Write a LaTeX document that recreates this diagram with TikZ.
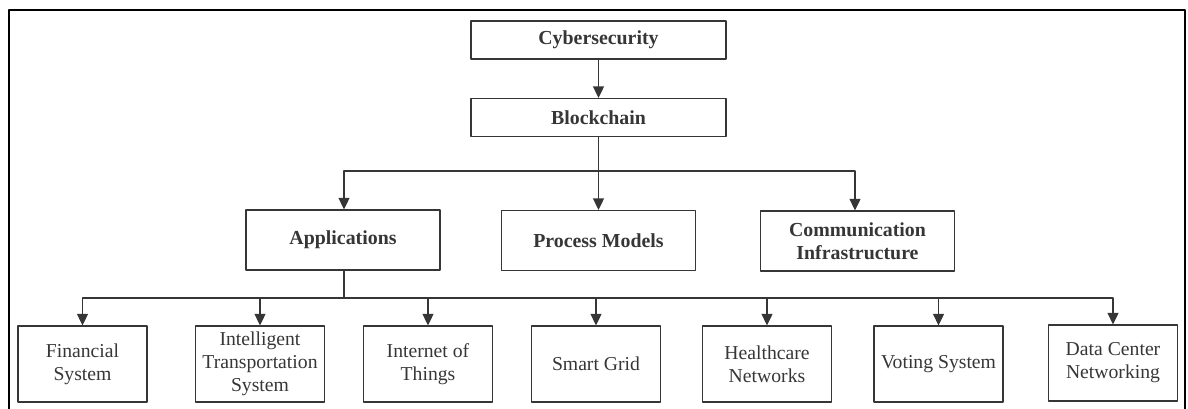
\documentclass[tikz,border=0pt]{standalone}
\usepackage{fontspec}
\setmainfont{Liberation Serif}
\usetikzlibrary{arrows.meta}
\definecolor{ink}{HTML}{363636}

\begin{document}
\begin{tikzpicture}[line cap=round,line join=round,
    topbox/.style={draw=ink,line width=0.7pt,inner sep=0pt,text=ink,
      minimum width=5.10cm,minimum height=0.76cm,
      font=\fontsize{11.3}{13}\selectfont\bfseries},
    midbox/.style={topbox,minimum width=3.88cm,minimum height=1.20cm,align=center},
    leafbox/.style={draw=ink,line width=0.7pt,inner sep=0pt,text=ink,align=center,
      minimum width=2.58cm,minimum height=1.52cm,
      font=\fontsize{11.2}{13}\selectfont},
    link/.style={draw=ink,line width=0.7pt,-{Triangle[length=6.5pt,width=6.2pt]}},
    bus/.style={draw=ink,line width=0.7pt}]
  \useasboundingbox (0,0) rectangle (23.76,-8.16);
  % outer frame, its lower edge runs off the page
  \draw[line width=1.2pt] (0.18,-8.6) -- (0.18,-0.20) -- (23.70,-0.20) -- (23.70,-8.6);

  % top of the tree
  \node[topbox] (cyber) at (11.97,-0.80) {Cybersecurity};
  \node[topbox] (chain) at (11.97,-2.35) {Blockchain};

  % second level
  \node[midbox] (apps)  at (6.86,-4.80)  {Applications};
  \node[midbox] (procm) at (11.97,-4.81) {Process Models};
  \node[midbox] (comm)  at (17.15,-4.82) {Communication\\Infrastructure};

  % leaves
  \node[leafbox] (fin)    at (1.65,-7.28)  {Financial\\System};
  \node[leafbox] (its)    at (5.20,-7.28)  {Intelligent\\Transportation\\System};
  \node[leafbox] (iot)    at (8.56,-7.28)  {Internet of\\Things};
  \node[leafbox] (grid)   at (11.92,-7.28) {Smart Grid};
  \node[leafbox] (health) at (15.34,-7.28) {Healthcare\\Networks};
  \node[leafbox] (vote)   at (18.77,-7.28) {Voting System};
  \node[leafbox] (dc)     at (22.26,-7.26) {Data Center\\Networking};

  \coordinate (split) at (11.97,-3.42);
  \coordinate (fork) at (6.88,-5.96);

  \draw[link] (cyber) -- (chain);
  \draw[link] (chain) -- (procm);
  \draw[link] (split) -| (apps.north -| 6.88,0);
  \draw[link] (split) -| (comm.north -| 17.10,0);

  \draw[bus] (apps.south -| fork) -- (fork);
  \foreach \leaf in {fin,its,iot,grid,health,vote,dc}
    \draw[link] (fork) -| (\leaf);
\end{tikzpicture}
\end{document}
